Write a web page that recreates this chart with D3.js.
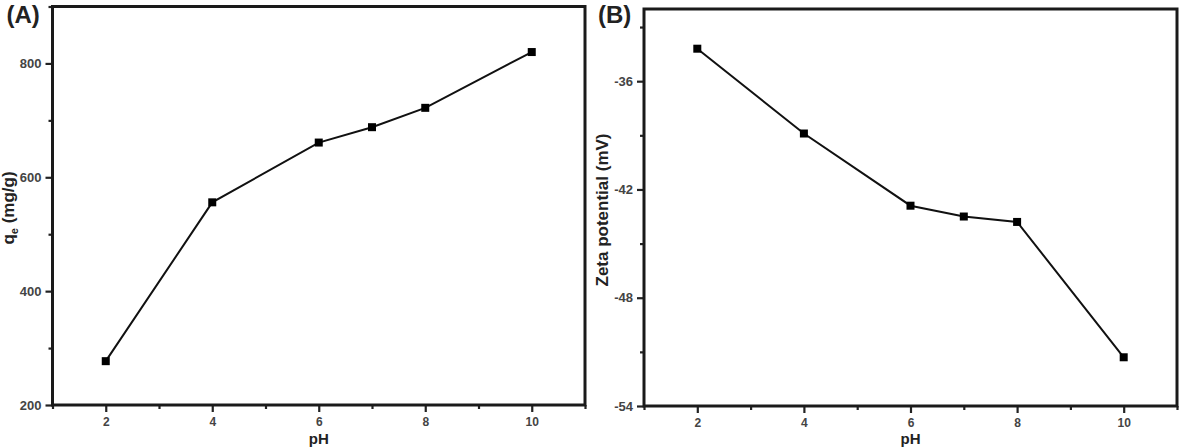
<!DOCTYPE html>
<html>
<head>
<meta charset="utf-8">
<script src="https://cdn.jsdelivr.net/npm/d3@7"></script>
<style>
  body { margin: 0; background: #fff; }
  svg text { font-family: "Liberation Sans", Arial, sans-serif; font-weight: bold; }
</style>
</head>
<body>
<svg id="chart" width="1191" height="448"></svg>
<script>
// pH values shared by both panels
const ph = [2, 4, 6, 7, 8, 10];
// (A) adsorption capacity qe (mg/g)
const qe = [277, 556, 661, 688, 722, 820];
// (B) zeta potential (mV)
const zeta = [-34.2, -38.9, -42.9, -43.5, -43.8, -51.3];

const xMajor = [2, 4, 6, 8, 10];
const xMinor = [1, 3, 5, 7, 9, 11];
const qeMajor = [200, 400, 600, 800];
const qeMinor = [300, 500, 700, 900];
const zetaMajor = [-54, -48, -42, -36];
const zetaMinor = [-51, -45, -39, -33];

const svg = d3.select("#chart");

function makePanel(opts) {
  const g = svg.append("g");
  const x = d3.scaleLinear().domain([1, 11]).range([opts.left, opts.right]);
  const y = d3.scaleLinear().domain(opts.yDomain).range([opts.bottom, opts.top]);

  // minor ticks
  g.append("g")
    .attr("transform", `translate(0,${opts.bottom})`)
    .call(d3.axisBottom(x).tickValues(xMinor).tickSize(4).tickFormat(""));
  g.append("g")
    .attr("transform", `translate(${opts.left},0)`)
    .call(d3.axisLeft(y).tickValues(opts.yMinor).tickSize(4).tickFormat(""));

  // major ticks, plain hyphen for negatives like the original
  const xa = g.append("g")
    .attr("transform", `translate(0,${opts.bottom})`)
    .call(d3.axisBottom(x).tickValues(xMajor).tickSize(7).tickPadding(5).tickFormat(d => String(d)));
  g.append("g")
    .attr("transform", `translate(${opts.left},0)`)
    .call(d3.axisLeft(y).tickValues(opts.yMajor).tickSize(7).tickPadding(4).tickFormat(d => String(d)));

  g.selectAll(".domain").remove();
  g.selectAll(".tick line").attr("stroke", "#222").attr("stroke-width", 2.2);
  g.selectAll(".tick text").attr("font-size", 13).attr("fill", "#444");
  xa.selectAll(".tick text").attr("font-size", 12);

  // frame
  g.append("rect")
    .attr("x", opts.left).attr("y", opts.top)
    .attr("width", opts.right - opts.left)
    .attr("height", opts.bottom - opts.top)
    .attr("fill", "none")
    .attr("stroke", "#1a1a1a")
    .attr("stroke-width", 3);

  const pts = ph.map((p, i) => [p, opts.values[i]]);
  g.append("path")
    .datum(pts)
    .attr("fill", "none")
    .attr("stroke", "#111")
    .attr("stroke-width", 2)
    .attr("d", d3.line().x(d => x(d[0])).y(d => y(d[1])));

  g.selectAll("rect.pt")
    .data(pts)
    .join("rect")
    .attr("class", "pt")
    .attr("x", d => x(d[0]) - 4)
    .attr("y", d => y(d[1]) - 4)
    .attr("width", 8)
    .attr("height", 8)
    .attr("fill", "#000");

  // panel letter
  g.append("text")
    .attr("x", opts.left - 46)
    .attr("y", 23)
    .attr("font-size", 24)
    .attr("fill", "#222")
    .text(opts.letter);

  // x label
  g.append("text")
    .attr("x", (opts.left + opts.right) / 2)
    .attr("y", 444)
    .attr("text-anchor", "middle")
    .attr("font-size", 15)
    .attr("fill", "#222")
    .text("pH");

  return { g, x, y };
}

const a = makePanel({
  left: 52.5, right: 585, top: 6.5, bottom: 405,
  yDomain: [200, 900], yMajor: qeMajor, yMinor: qeMinor,
  values: qe, letter: "(A)"
});
const ylabA = a.g.append("text")
  .attr("transform", "translate(14,208) rotate(-90)")
  .attr("text-anchor", "middle")
  .attr("font-size", 17)
  .attr("fill", "#222");
ylabA.append("tspan").text("q");
ylabA.append("tspan").attr("font-size", 11).attr("dy", 4).text("e");
ylabA.append("tspan").attr("dy", -4).text(" (mg/g)");

const b = makePanel({
  left: 644, right: 1177, top: 9, bottom: 406,
  yDomain: [-54, -32], yMajor: zetaMajor, yMinor: zetaMinor,
  values: zeta, letter: "(B)"
});
b.g.append("text")
  .attr("transform", "translate(608,210) rotate(-90)")
  .attr("text-anchor", "middle")
  .attr("font-size", 17)
  .attr("fill", "#222")
  .text("Zeta potential (mV)");
</script>
</body>
</html>
